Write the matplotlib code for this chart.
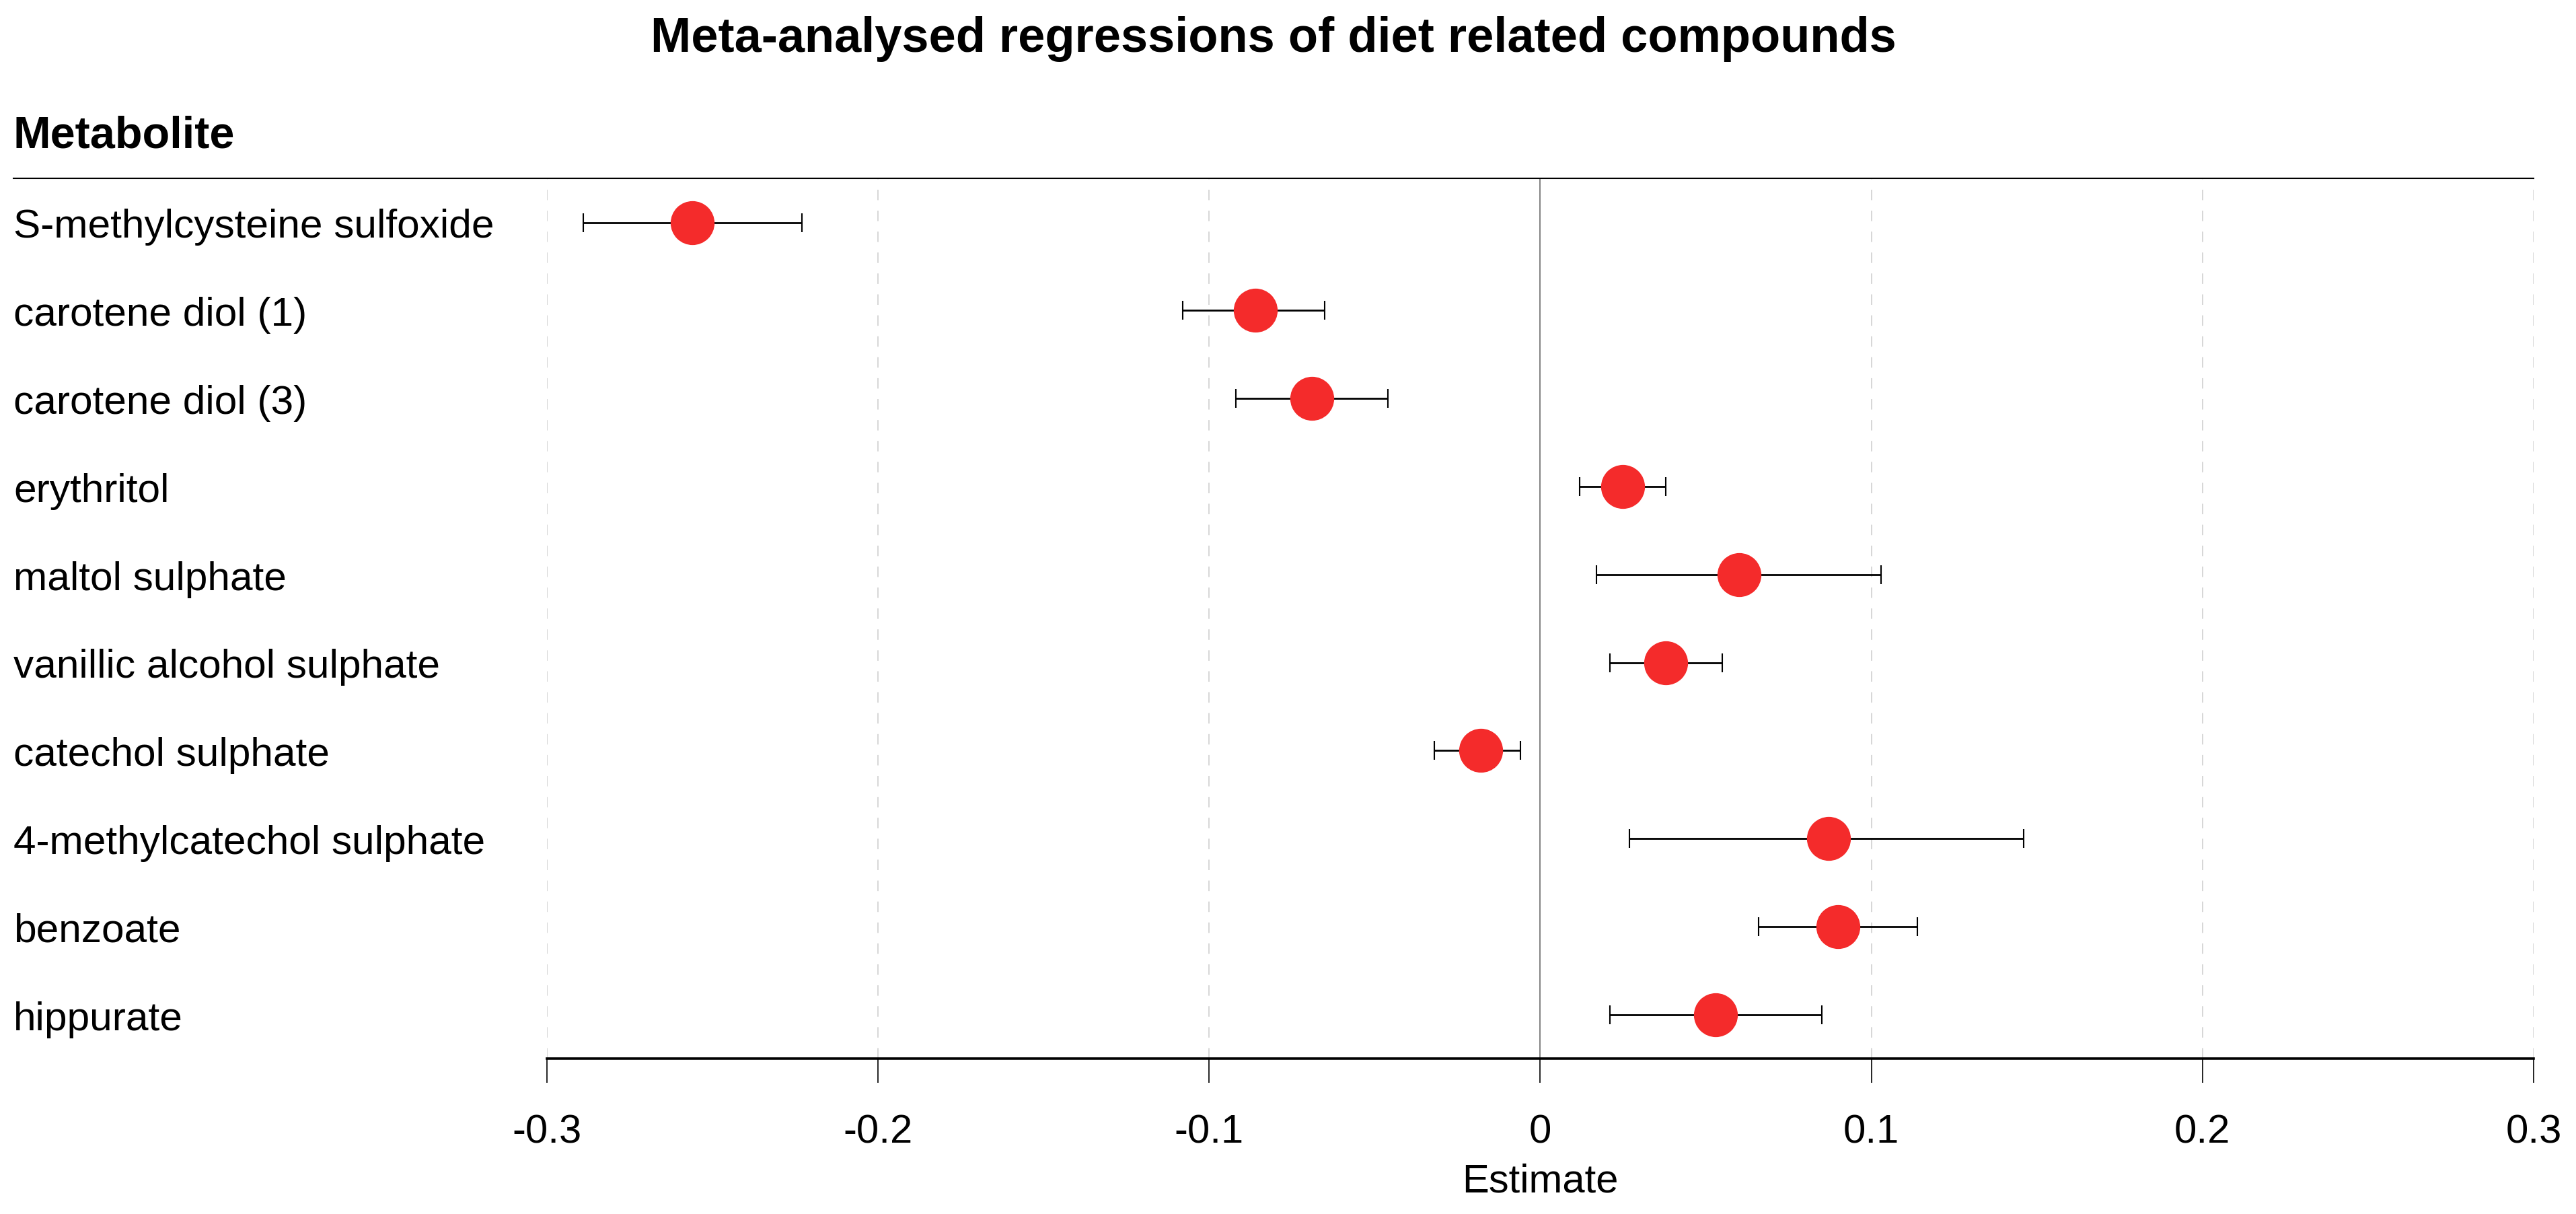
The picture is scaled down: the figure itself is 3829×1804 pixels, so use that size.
import numpy as np
import matplotlib
matplotlib.use("Agg")
import matplotlib.pyplot as plt
from matplotlib.lines import Line2D
import matplotlib.transforms as mtransforms

plt.rcParams['font.family'] = ['Liberation Sans', 'DejaVu Sans']

# data
metabolites = ['S-methylcysteine sulfoxide', 'carotene diol (1)', 'carotene diol (3)',
               'erythritol', 'maltol sulphate', 'vanillic alcohol sulphate',
               'catechol sulphate', '4-methylcatechol sulphate', 'benzoate', 'hippurate']
estimate = [-0.256, -0.086, -0.069, 0.025, 0.060, 0.038, -0.018, 0.087, 0.090, 0.053]
ci_low = [-0.289, -0.108, -0.092, 0.012, 0.017, 0.021, -0.032, 0.027, 0.066, 0.021]
ci_high = [-0.223, -0.065, -0.046, 0.038, 0.103, 0.055, -0.006, 0.146, 0.114, 0.085]
x_ticks = [-0.3, -0.2, -0.1, 0, 0.1, 0.2, 0.3]
x_tick_labels = ['-0.3', '-0.2', '-0.1', '0', '0.1', '0.2', '0.3']

est = np.array(estimate)
lo = np.array(ci_low)
hi = np.array(ci_high)
ypos = np.arange(len(metabolites))

fig = plt.figure(figsize=(38.29, 18.04), dpi=100)
ax = fig.add_axes([0.2123, 0.128, 0.7712, 0.725])

# grid + zero line
for t in x_ticks:
    if t != 0:
        ax.axvline(t, color='#d6d6d6', lw=1.4, ls=(0, (8, 8)), zorder=0)
ax.axvline(0, color='#808080', lw=1.4, zorder=1)

ax.errorbar(est, ypos, xerr=[est - lo, hi - est], fmt='none', ecolor='black',
            elinewidth=2.0, capsize=10, capthick=1.5, zorder=2)
ax.plot(est, ypos, 'o', color='#f42b2b', markersize=47, markeredgewidth=0, zorder=3)

ax.set_xlim(-0.3, 0.3)
ax.set_ylim(len(metabolites) - 0.5, -0.5)
ax.set_xticks(x_ticks)
ax.set_xticklabels(x_tick_labels, fontsize=43)
ax.set_yticks([])
ax.tick_params(axis='x', direction='out', length=26, width=1.2, pad=33)
for s in ['top', 'left', 'right']:
    ax.spines[s].set_visible(False)
ax.spines['bottom'].set_linewidth(2.6)
ax.set_xlabel('Estimate', fontsize=43, labelpad=13)

# row labels
trans = mtransforms.blended_transform_factory(fig.transFigure, ax.transData)
for i, name in enumerate(metabolites):
    ax.annotate(name, xy=(0.0052, i), xycoords=trans, xytext=(0, -16.5),
                textcoords='offset points', va='baseline', ha='left', fontsize=43.5)

# top rule and header
fig.add_artist(Line2D([0.0052, 0.9835], [0.853, 0.853], color='black', lw=1.5))
fig.text(0.0052, 0.888, 'Metabolite', fontsize=48, fontweight='bold', va='center', ha='left')
fig.text(0.4944, 0.968, 'Meta-analysed regressions of diet related compounds',
         fontsize=52, fontweight='bold', va='center', ha='center')

fig.savefig('out.png', dpi=100)
